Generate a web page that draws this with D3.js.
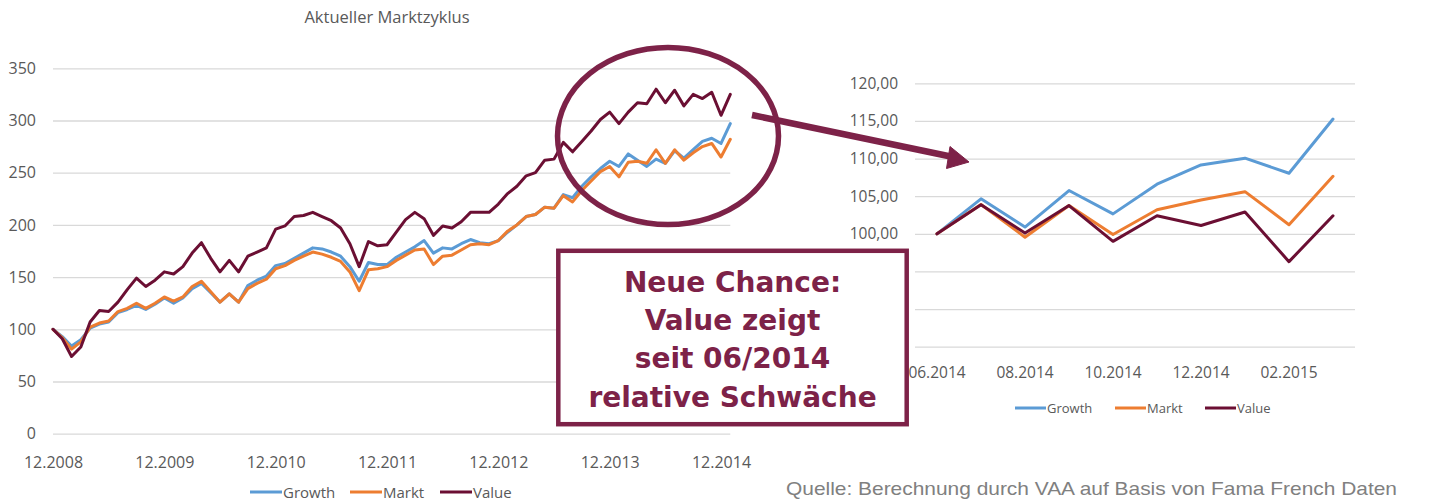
<!DOCTYPE html>
<html><head><meta charset="utf-8">
<script src="https://cdn.jsdelivr.net/npm/d3@7"></script>
<style>
html,body{margin:0;padding:0;background:#fff;}
svg{display:block;}
</style></head>
<body>
<script>
// ---------- Left chart data ----------
const months = ["12.2008",
"01.2009","02.2009","03.2009","04.2009","05.2009","06.2009","07.2009","08.2009","09.2009","10.2009","11.2009","12.2009",
"01.2010","02.2010","03.2010","04.2010","05.2010","06.2010","07.2010","08.2010","09.2010","10.2010","11.2010","12.2010",
"01.2011","02.2011","03.2011","04.2011","05.2011","06.2011","07.2011","08.2011","09.2011","10.2011","11.2011","12.2011",
"01.2012","02.2012","03.2012","04.2012","05.2012","06.2012","07.2012","08.2012","09.2012","10.2012","11.2012","12.2012",
"01.2013","02.2013","03.2013","04.2013","05.2013","06.2013","07.2013","08.2013","09.2013","10.2013","11.2013","12.2013",
"01.2014","02.2014","03.2014","04.2014","05.2014","06.2014","07.2014","08.2014","09.2014","10.2014","11.2014","12.2014",
"01.2015"];
const growthLong = [100,93,84,90,101,105,107,116,119,123,119,124,130,125,130,139,144,135,126,134,126,142,147,151,161,163,168,173,178,177,174,170,160,146,164,162,162,169,174,179,185,173,178,177,182,186,183,182,185,193,200,208,210,217,216,229,226,237,246,254,261,256,268,262,256,263,259,271,264,272,280,283,278,297];
const marktLong = [100,92,81,88,102,106,108,117,120,125,120,125,131,127,131,141,146,136,126,134,126,139,144,148,158,161,166,170,174,172,169,165,155,137,157,158,160,166,171,176,177,162,170,171,176,181,182,181,185,194,200,208,210,217,216,228,222,233,242,251,256,246,260,261,259,272,259,272,262,269,275,278,265,282];
const valueLong = [100,91,74,83,107,118,117,126,138,149,141,147,155,153,160,173,183,168,155,166,155,170,174,178,196,199,208,209,212,208,204,197,182,160,184,180,181,193,205,212,206,190,199,197,203,212,212,212,220,230,237,247,250,262,263,279,270,280,290,301,308,297,308,317,316,330,317,329,314,325,321,327,305,325];
const leftXTicks = ["12.2008","12.2009","12.2010","12.2011","12.2012","12.2013","12.2014"];
const leftYTicks = [0,50,100,150,200,250,300,350];
const leftTitle = "Aktueller Marktzyklus";

// ---------- Right chart data ----------
const monthsShort = ["06.2014","07.2014","08.2014","09.2014","10.2014","11.2014","12.2014","01.2015","02.2015","03.2015"];
const growthShort = [100,104.65,100.9,105.75,102.65,106.6,109.15,110.05,108.05,115.25];
const marktShort = [100,103.9,99.55,103.75,99.9,103.2,104.5,105.6,101.2,107.65];
const valueShort = [100,103.85,100.1,103.75,99.0,102.4,101.1,102.9,96.3,102.4];
const rightXTicks = ["06.2014","08.2014","10.2014","12.2014","02.2015"];
const rightYTicks = [85,90,95,100,105,110,115,120];

const seriesNames = ["Growth","Markt","Value"];
const annotationLines = ["Neue Chance:","Value zeigt","seit 06/2014","relative Schwäche"];
const sourceText = "Quelle: Berechnung durch VAA auf Basis von Fama French Daten";

// ---------- styles ----------
const colors = {Growth:"#5B9BD5", Markt:"#ED7D31", Value:"#6B0F33"};
const accent = "#7D2248";
const gridColor = "#d9d9d9";
const textColor = "#595959";
const font = "'Open Sans', sans-serif";

const W = 1431, H = 504;
const svg = d3.select("body").append("svg").attr("width", W).attr("height", H);

// ===== Left chart =====
const L = {x0:53, x1:730.3, yTop:68.3, yBot:433.7};
const xL = d3.scalePoint().domain(months).range([L.x0, L.x1]);
const yL = d3.scaleLinear().domain([0,350]).range([L.yBot, L.yTop]);

const gL = svg.append("g");
const yAxL = gL.append("g").attr("transform", `translate(${L.x0},0)`)
  .call(d3.axisLeft(yL).tickValues(leftYTicks).tickSize(-(L.x1-L.x0)).tickPadding(17).tickFormat(d3.format("d")));
yAxL.select(".domain").remove();
yAxL.selectAll(".tick line").attr("stroke", gridColor).attr("stroke-width", 1.3);
yAxL.selectAll(".tick text").attr("fill", textColor).style("font-family", font).style("font-size","16px");

const xAxL = gL.append("g").attr("transform", `translate(0,${L.yBot})`)
  .call(d3.axisBottom(xL).tickValues(leftXTicks).tickSize(0).tickPadding(23));
xAxL.select(".domain").remove();
xAxL.selectAll(".tick text").attr("fill", textColor).style("font-family", font).style("font-size","16px");

gL.append("text").attr("x", 387).attr("y", 23).attr("text-anchor","middle")
  .attr("fill", textColor).style("font-family", font).style("font-size","16.5px").text(leftTitle);

const lineL = d3.line().x((d,i)=>xL(months[i])).y(d=>yL(d));
const longData = {Growth:growthLong, Markt:marktLong, Value:valueLong};
seriesNames.forEach(n=>{
  gL.append("path").datum(longData[n]).attr("d", lineL).attr("fill","none")
    .attr("stroke", colors[n]).attr("stroke-width", 3).attr("stroke-linejoin","round").attr("stroke-linecap","round");
});

// left legend
const legL = [{n:"Growth",x:250},{n:"Markt",x:350},{n:"Value",x:440}];
legL.forEach(l=>{
  gL.append("line").attr("x1", l.x).attr("x2", l.x+32).attr("y1", 492).attr("y2", 492)
    .attr("stroke", colors[l.n]).attr("stroke-width", 3);
  gL.append("text").attr("x", l.x+33).attr("y", 497.5).attr("fill", textColor)
    .style("font-family", font).style("font-size","15px").text(l.n);
});

// ===== Right chart =====
const R = {x0:915, x1:1355, yTop:83.3, yBot:346.7};
const xR = d3.scaleBand().domain(monthsShort).range([R.x0, R.x1]);
const yR = d3.scaleLinear().domain([85,120]).range([R.yBot, R.yTop]);
const gR = svg.append("g");
const fmtR = d => d3.format(".2f")(d).replace(".", ",");
const yAxR = gR.append("g").attr("transform", `translate(${R.x0},0)`)
  .call(d3.axisLeft(yR).tickValues(rightYTicks).tickSize(-(R.x1-R.x0)).tickPadding(17).tickFormat(fmtR));
yAxR.select(".domain").remove();
yAxR.selectAll(".tick line").attr("stroke", gridColor).attr("stroke-width", 1.3);
yAxR.selectAll(".tick text").attr("fill", textColor).style("font-family", font).style("font-size","15.5px");

const xAxR = gR.append("g").attr("transform", `translate(0,${R.yBot})`)
  .call(d3.axisBottom(xR).tickValues(rightXTicks).tickSize(0).tickPadding(20));
xAxR.select(".domain").remove();
xAxR.selectAll(".tick text").attr("fill", textColor).style("font-family", font).style("font-size","15.5px");

const lineR = d3.line().x((d,i)=>xR(monthsShort[i]) + xR.bandwidth()/2).y(d=>yR(d));
const shortData = {Growth:growthShort, Markt:marktShort, Value:valueShort};
seriesNames.forEach(n=>{
  gR.append("path").datum(shortData[n]).attr("d", lineR).attr("fill","none")
    .attr("stroke", colors[n]).attr("stroke-width", 3).attr("stroke-linejoin","round").attr("stroke-linecap","round");
});

const legR = [{n:"Growth",x:1015},{n:"Markt",x:1115},{n:"Value",x:1205}];
legR.forEach(l=>{
  gR.append("line").attr("x1", l.x).attr("x2", l.x+31).attr("y1", 408).attr("y2", 408)
    .attr("stroke", colors[l.n]).attr("stroke-width", 3);
  gR.append("text").attr("x", l.x+32).attr("y", 412.5).attr("fill", textColor)
    .style("font-family", font).style("font-size","13px").text(l.n);
});

// ===== Annotations =====
const gA = svg.append("g");
gA.append("ellipse").attr("cx", 668).attr("cy", 136).attr("rx", 110.5).attr("ry", 88.5)
  .attr("fill","none").attr("stroke", accent).attr("stroke-width", 5.5);
gA.append("line").attr("x1", 752).attr("y1", 115).attr("x2", 953).attr("y2", 157)
  .attr("stroke", accent).attr("stroke-width", 6.5);
gA.append("polygon").attr("points", "969,162 950,146.5 946.5,168.5").attr("fill", accent).attr("stroke", accent).attr("stroke-width",1);

gA.append("rect").attr("x", 558.3).attr("y", 250.8).attr("width", 348.4).attr("height", 173.4)
  .attr("fill","#fff").attr("stroke", accent).attr("stroke-width", 4.5);
const baselines = [292.3, 330.2, 368.3, 406.7];
annotationLines.forEach((t,i)=>{
  gA.append("text").attr("x", 732.5).attr("y", baselines[i]).attr("text-anchor","middle")
    .attr("fill", accent).style("font-family","'DejaVu Sans', sans-serif").style("font-weight","bold")
    .style("font-size","28px").text(t);
});

svg.append("text").attr("x", 786).attr("y", 495).attr("fill", "#808080")
  .attr("textLength", 611).attr("lengthAdjust","spacingAndGlyphs")
  .style("font-family","'Liberation Sans Narrow','Liberation Sans',sans-serif").style("font-size","19px")
  .text(sourceText);
</script>
</body></html>
